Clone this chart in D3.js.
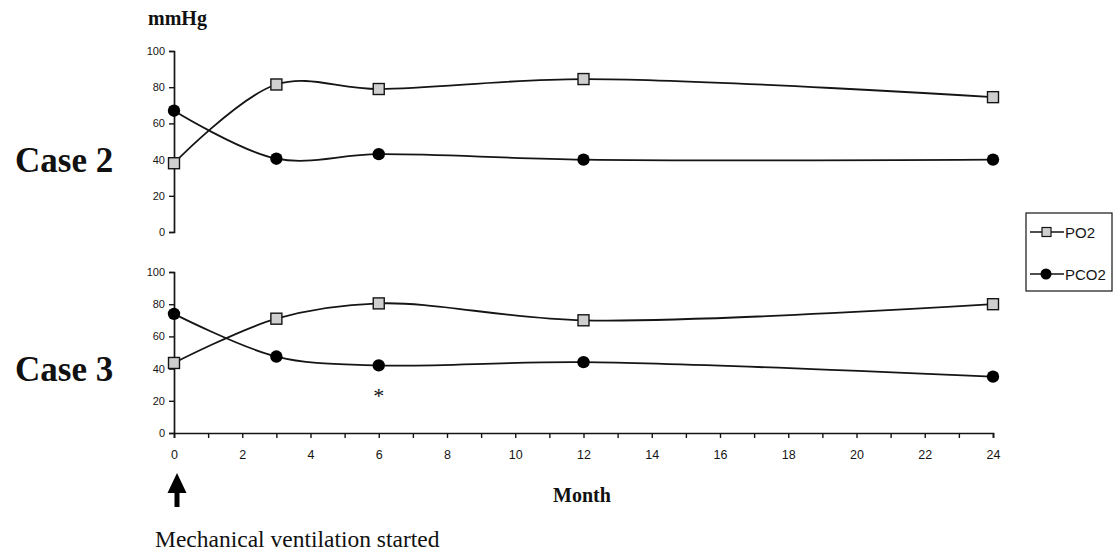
<!DOCTYPE html>
<html>
<head>
<meta charset="utf-8">
<script src="https://cdn.jsdelivr.net/npm/d3@7"></script>
<style>
body { margin: 0; background: #fff; }
svg { display: block; }
</style>
</head>
<body>
<div id="app"></div>
<script>
// months after ventilation started
const months = [0, 3, 6, 12, 24]
const case2PO2 = [38, 81.5, 79, 84.5, 74.5]
const case2PCO2 = [67, 40.5, 43, 40, 40]
const case3PO2 = [43.5, 71, 80.5, 70, 80]
const case3PCO2 = [74, 47.5, 42, 44, 35]
const yTicks = [0, 20, 40, 60, 80, 100]
const seriesNames = ['PO2', 'PCO2']

const width = 1113
const height = 552

const svg = d3.select('#app')
.append('svg')
.attr('width', width)
.attr('height', height)

const scaleX = d3.scaleLinear()
.domain([0, 24])
.range([174, 993])

const panels = [
  { title: 'Case 2', po2: case2PO2, pco2: case2PCO2, y: d3.scaleLinear().domain([0, 100]).range([232, 51]) },
  { title: 'Case 3', po2: case3PO2, pco2: case3PCO2, y: d3.scaleLinear().domain([0, 100]).range([433, 272]) }
]

const ink = '#151515'
const sans = 'Arial, "Liberation Sans", sans-serif'
const serif = '"Liberation Serif", "Times New Roman", serif'

panels.forEach((p, i) => {
  const g = svg.append('g')

  // y axis
  const ax = g.append('g')
  .attr('transform', `translate(${scaleX(0)},0)`)
  .call(d3.axisLeft(p.y).tickValues(yTicks).tickSize(5).tickPadding(4))
  ax.select('.domain').attr('stroke', ink).attr('stroke-width', 1.7)
  ax.selectAll('.tick line').attr('stroke', ink).attr('stroke-width', 1.4)
  ax.selectAll('.tick text')
  .attr('font-family', sans)
  .attr('font-size', 11)
  .attr('fill', ink)

  const line = d3.line()
  .x((d, j) => scaleX(months[j]))
  .y(d => p.y(d))
  .curve(d3.curveCatmullRom.alpha(0.5))

  g.append('path').datum(p.pco2)
  .attr('d', line).attr('fill', 'none').attr('stroke', ink).attr('stroke-width', 1.8)
  g.append('path').datum(p.po2)
  .attr('d', line).attr('fill', 'none').attr('stroke', ink).attr('stroke-width', 1.8)

  g.selectAll('.sq').data(p.po2).join('rect')
  .attr('x', (d, j) => scaleX(months[j]) - 5.5)
  .attr('y', d => p.y(d) - 5.5)
  .attr('width', 11).attr('height', 11)
  .attr('fill', '#cfcfcf').attr('stroke', ink).attr('stroke-width', 1.4)

  g.selectAll('.ci').data(p.pco2).join('circle')
  .attr('cx', (d, j) => scaleX(months[j]))
  .attr('cy', d => p.y(d))
  .attr('r', 6.2)
  .attr('fill', '#000')

  g.append('text')
  .attr('x', 15).attr('y', p.y(40) + 12)
  .attr('font-family', serif)
  .attr('font-weight', 'bold')
  .attr('font-size', 35)
  .attr('fill', '#111')
  .text(p.title)
})

// x axis on the lower panel only
const xAx = svg.append('g')
.attr('transform', `translate(0,${panels[1].y(0)})`)
.call(d3.axisBottom(scaleX).ticks(24).tickSize(5).tickPadding(12)
  .tickFormat(d => d % 2 === 0 ? d : ''))
xAx.select('.domain').attr('stroke', ink).attr('stroke-width', 1.7)
xAx.selectAll('.tick line').attr('stroke', ink).attr('stroke-width', 1.4)
xAx.selectAll('.tick text')
.attr('font-family', sans)
.attr('font-size', 12.5)
.attr('fill', ink)

svg.append('text')
.attr('x', 148).attr('y', 25)
.attr('font-family', serif)
.attr('font-weight', 'bold')
.attr('font-size', 20)
.attr('fill', '#111')
.text('mmHg')

svg.append('text')
.attr('x', 582).attr('y', 502)
.attr('text-anchor', 'middle')
.attr('font-family', serif)
.attr('font-weight', 'bold')
.attr('font-size', 20)
.attr('fill', '#111')
.text('Month')

svg.append('text')
.attr('x', scaleX(6)).attr('y', panels[1].y(42) + 38)
.attr('text-anchor', 'middle')
.attr('font-family', serif)
.attr('font-size', 22)
.attr('fill', '#111')
.text('*')

// arrow marking ventilation start
const ax0 = scaleX(0) + 3
svg.append('path')
.attr('d', `M${ax0},473 L${ax0 - 9.5},493 L${ax0 - 2.5},493 L${ax0 - 2.5},507 L${ax0 + 2.5},507 L${ax0 + 2.5},493 L${ax0 + 9.5},493 Z`)
.attr('fill', '#000')

svg.append('text')
.attr('x', 155).attr('y', 547)
.attr('font-family', serif)
.attr('font-size', 23.5)
.attr('fill', '#111')
.text('Mechanical ventilation started')

// legend
const lg = svg.append('g')
lg.append('rect')
.attr('x', 1026).attr('y', 213).attr('width', 86).attr('height', 78)
.attr('fill', '#fff').attr('stroke', ink).attr('stroke-width', 1.2)

seriesNames.forEach((name, i) => {
  const ly = 232 + i * 42
  lg.append('line').attr('x1', 1030).attr('x2', 1064).attr('y1', ly).attr('y2', ly)
  .attr('stroke', ink).attr('stroke-width', 1.5)
  if (i === 0) {
    lg.append('rect').attr('x', 1042).attr('y', ly - 4.5).attr('width', 9).attr('height', 9)
    .attr('fill', '#cfcfcf').attr('stroke', ink).attr('stroke-width', 1.2)
  } else {
    lg.append('circle').attr('cx', 1046).attr('cy', ly).attr('r', 5.5).attr('fill', '#000')
  }
  lg.append('text').attr('x', 1065).attr('y', ly + 5.5)
  .attr('font-family', sans)
  .attr('font-size', 15)
  .attr('fill', ink)
  .text(name)
})
</script>
</body>
</html>
